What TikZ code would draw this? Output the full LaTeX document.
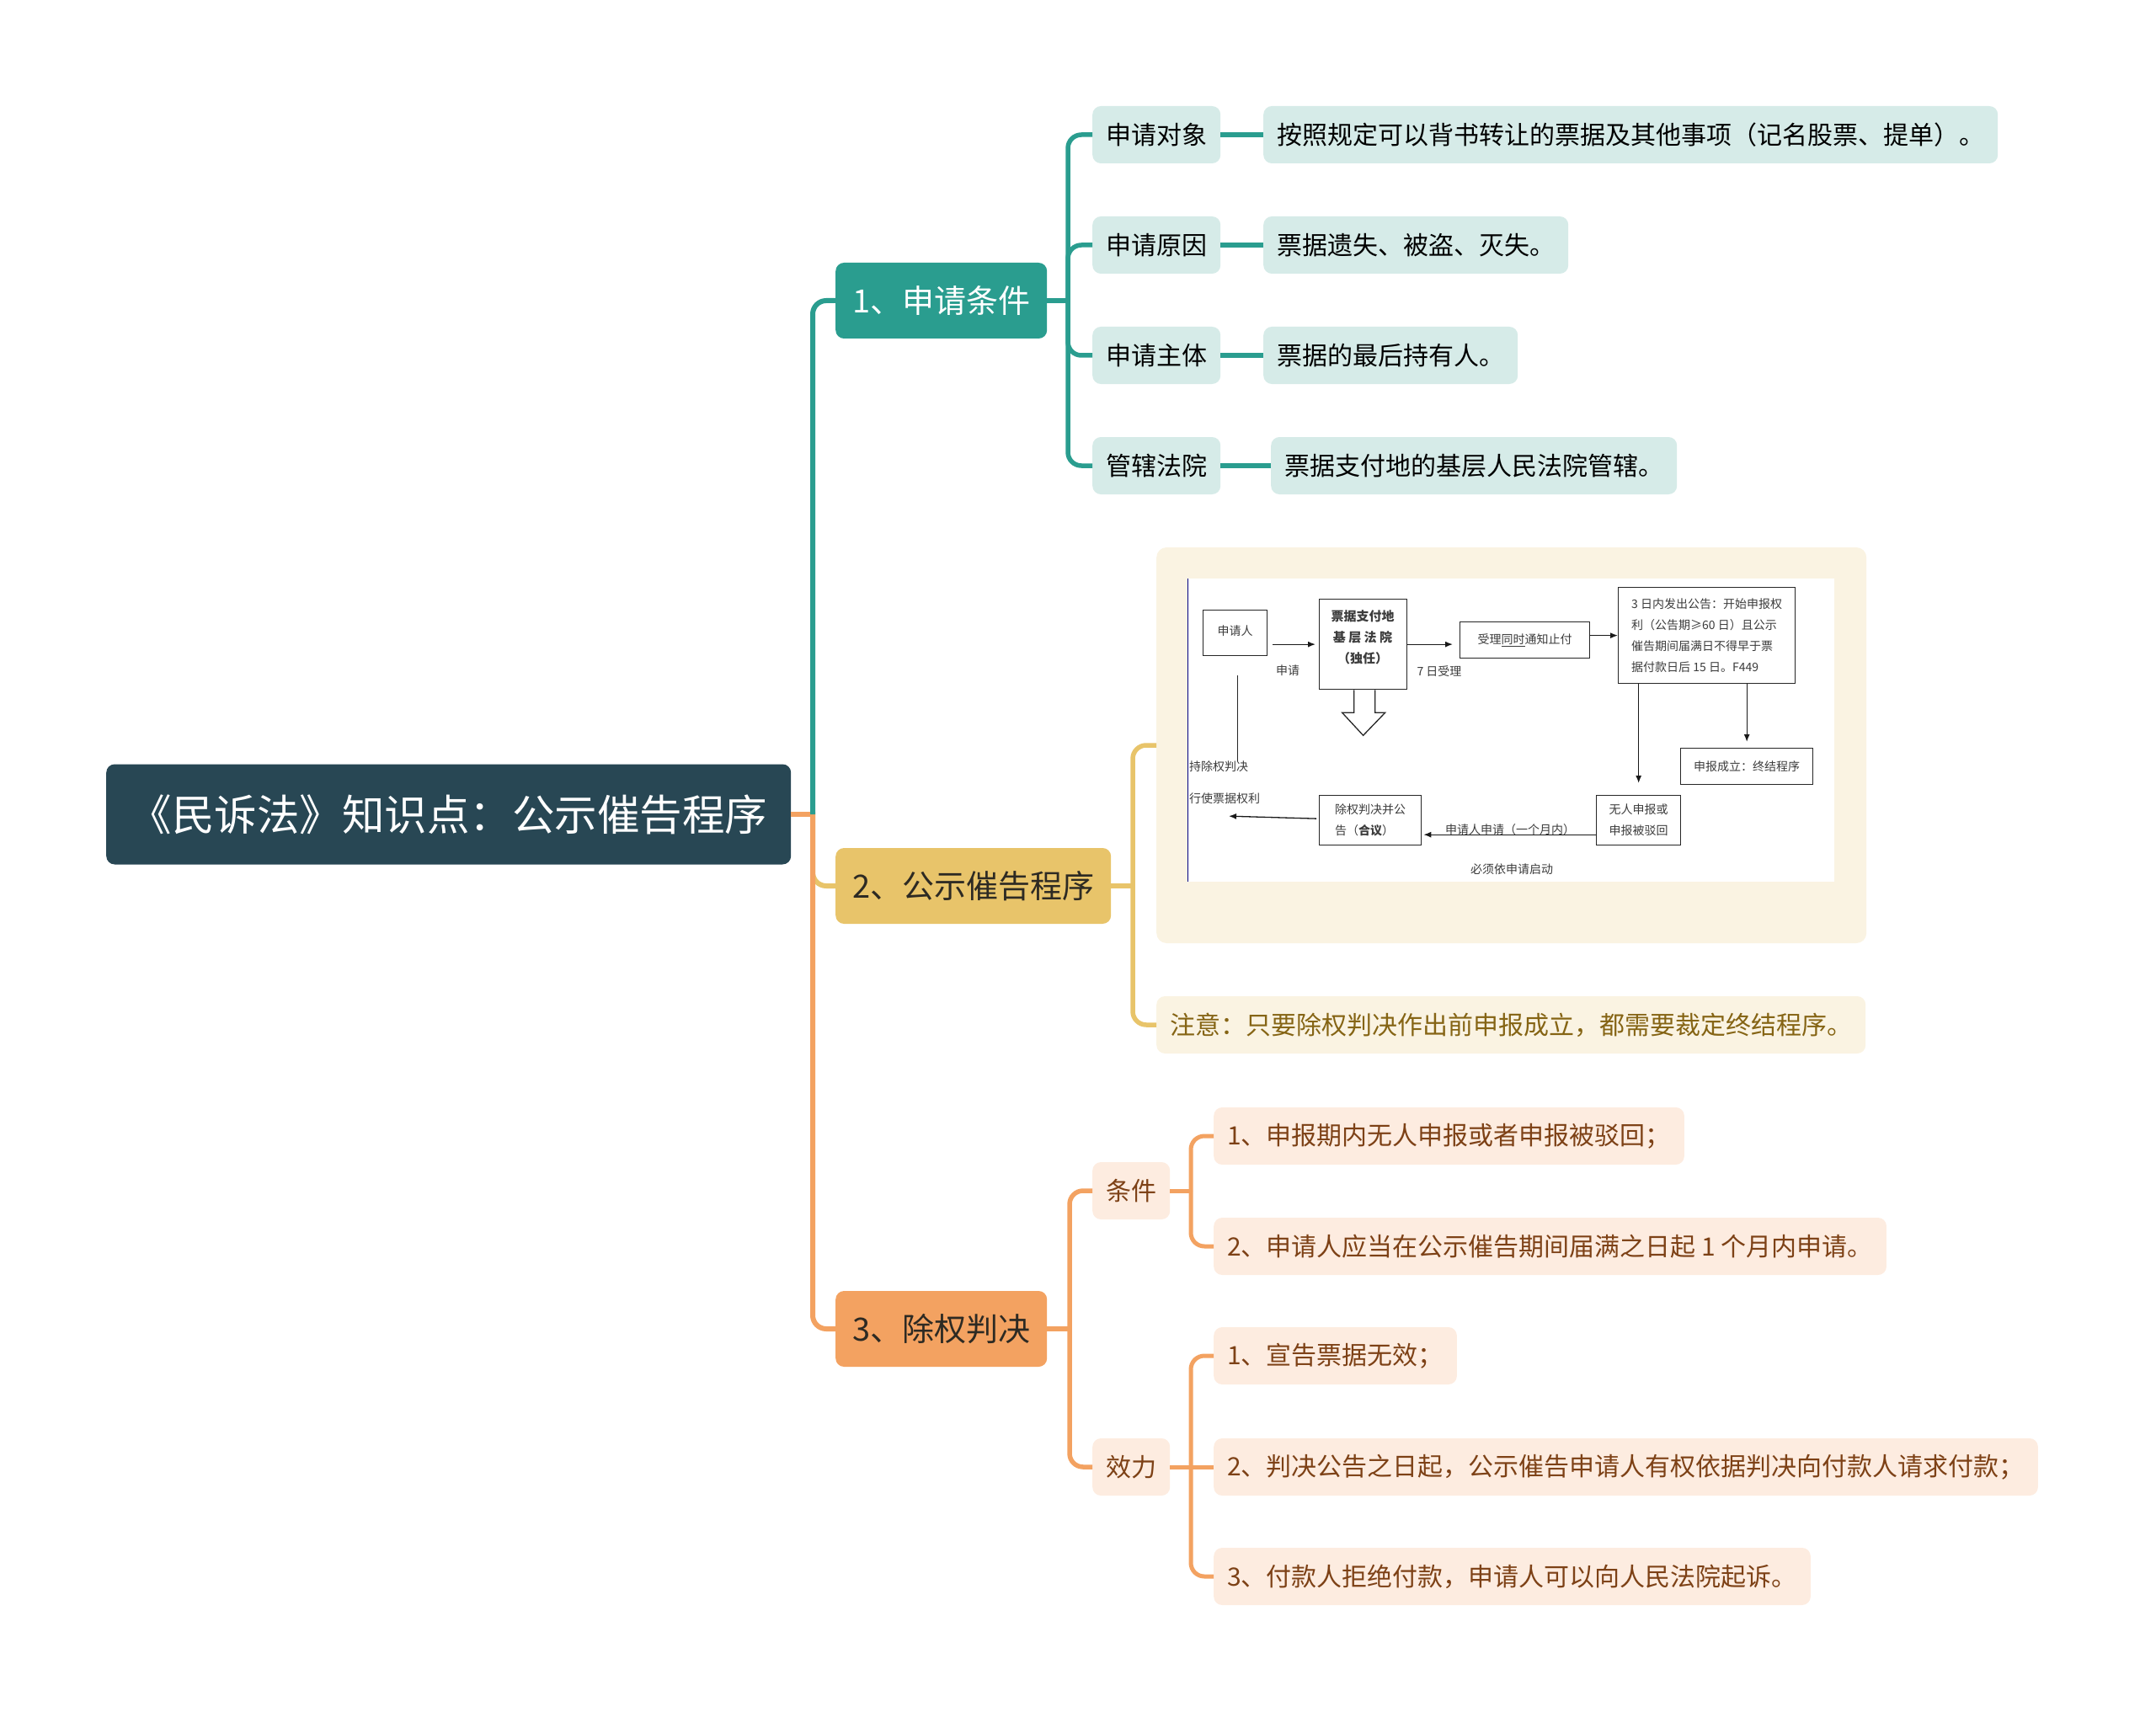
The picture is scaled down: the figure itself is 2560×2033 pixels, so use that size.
\documentclass[tikz,border=0pt]{standalone}
\usepackage{fontspec}
\setmainfont{Noto Sans CJK SC}
\usetikzlibrary{calc, arrows.meta}
\definecolor{rootC}{RGB}{40,71,84}
\definecolor{tealC}{RGB}{42,157,143}
\definecolor{goldC}{RGB}{232,196,106}
\definecolor{orangeC}{RGB}{243,162,97}
\definecolor{tealL}{RGB}{214,235,232}
\definecolor{goldL}{RGB}{250,243,226}
\definecolor{orangeL}{RGB}{253,236,224}
\definecolor{goldT}{RGB}{133,100,20}
\definecolor{orangeT}{RGB}{125,65,22}
\definecolor{darkT}{RGB}{45,42,35}
\definecolor{flowT}{RGB}{60,60,60}

\begin{document}
\begin{tikzpicture}[x=1pt, y=-1pt,
  rootnode/.style={fill=rootC, text=white, rounded corners=10pt, anchor=west, minimum width=813pt, minimum height=119pt, font=\fontsize{50.5}{58}\selectfont},
  topic/.style={rounded corners=10pt, anchor=west, minimum height=90pt, font=\fontsize{38}{44}\selectfont},
  leaf/.style={rounded corners=10pt, anchor=west, inner xsep=16pt, inner ysep=0pt, minimum height=68pt, font=\fontsize{30}{35}\selectfont},
  tline/.style={tealC, line width=6pt},
  gline/.style={goldC, line width=6pt},
  oline/.style={orangeC, line width=6pt},
  elbow/.style={rounded corners=16pt},
  fbox/.style={draw=black!85, line width=1.3pt, anchor=north west, inner sep=0pt, text=flowT, font=\fontsize{14}{25}\selectfont},
  ftext/.style={text=flowT, font=\fontsize{14}{25}\selectfont, inner sep=0pt},
  farrow/.style={black!90, line width=1.3pt, -{Latex[length=9pt, width=7pt]}}
]
\useasboundingbox (0,0) rectangle (2560,2033);

% root and first level
\node[rootnode] (root) at (126,967) {《民诉法》知识点：公示催告程序};
\node[topic, fill=tealC, text=white, minimum width=251pt] (b1) at (992,357) {1、申请条件};
\node[topic, fill=goldC, text=darkT, minimum width=327pt] (b2) at (992,1052) {2、公示催告程序};
\node[topic, fill=orangeC, text=darkT, minimum width=251pt] (b3) at (992,1578) {3、除权判决};

\coordinate (j0) at (965,967);
\coordinate (j1) at (1268,357);
\coordinate (j2) at (1345,1052);
\coordinate (j3) at (1270,1578);
\coordinate (j3a) at (1414,1414);
\coordinate (j3b) at (1414,1742);

\draw[gline, elbow] (j0) |- (b2.west);
\draw[oline] (root.east) -- ($(j0)+(3,0)$);
\draw[oline, elbow] ($(j0)+(0,-3)$) |- (b3.west);
\draw[tline, elbow] (j0) |- (b1.west);

% 1 申请条件
\node[leaf, fill=tealL] (s1) at (1297,160) {申请对象};
\node[leaf, fill=tealL] (d1) at (1500,160) {按照规定可以背书转让的票据及其他事项（记名股票、提单）。};
\node[leaf, fill=tealL] (s2) at (1297,291) {申请原因};
\node[leaf, fill=tealL] (d2) at (1500,291) {票据遗失、被盗、灭失。};
\node[leaf, fill=tealL] (s3) at (1297,422) {申请主体};
\node[leaf, fill=tealL] (d3) at (1500,422) {票据的最后持有人。};
\node[leaf, fill=tealL] (s4) at (1297,553) {管辖法院};
\node[leaf, fill=tealL] (d4) at (1509,553) {票据支付地的基层人民法院管辖。};

\draw[tline] (b1.east) -- (j1);
\foreach \s in {s1,s2,s3,s4}
  \draw[tline, line width=5.5pt, elbow] (j1) |- (\s.west);
\foreach \s/\d in {s1/d1, s2/d2, s3/d3, s4/d4}
  \draw[tline, line width=5.5pt] (\s.east) -- (\d.west);

% 2 公示催告程序
\node[leaf, fill=goldL, rounded corners=12pt, minimum width=843pt, minimum height=470pt] (pic) at (1373,885) {};
\node[leaf, fill=goldL, text=goldT] (note) at (1373,1217) {注意：只要除权判决作出前申报成立，都需要裁定终结程序。};

\draw[gline] (b2.east) -- (j2);
\draw[gline, line width=5.5pt, elbow] (j2) |- (pic.west);
\draw[gline, line width=5.5pt, elbow] (j2) |- (note.west);

% flow chart inside the picture box
\fill[white] (1410,687) rectangle (2178,1047);
\draw[blue!50!black, line width=1pt] (1410,687) -- (1410,1047);

\node[fbox, minimum width=76pt, minimum height=54pt] (fa) at (1428,724) {\raisebox{7pt}{申请人}};
\node[fbox, minimum width=104pt, minimum height=107pt] (fb) at (1566,711) {};
\node[ftext, align=center, font=\fontsize{15}{25}\selectfont\bfseries] (fbt) at (1618,757) {票据支付地\\基 层 法 院\\（独任）};
\node[fbox, minimum width=154pt, minimum height=43pt] (fc) at (1733,738) {受理\underline{同时}通知止付};
\node[fbox, minimum width=210pt, minimum height=114pt, align=left] (fd) at (1921,697) {3 日内发出公告：开始申报权\\利（公告期≥60 日）且公示\\催告期间届满日不得早于票\\据付款日后 15 日。F449};
\node[fbox, minimum width=157pt, minimum height=43pt] (fe) at (1995,888) {申报成立：终结程序};
\node[fbox, minimum width=100pt, minimum height=59pt, align=center] (ff) at (1895,944) {无人申报或\\申报被驳回};
\node[fbox, minimum width=121pt, minimum height=59pt, align=left] (fg) at (1566,944) {除权判决并公\\告（\textbf{合议}）};

\draw[black!85, line width=1.3pt] ($(fb.south)+(-11,0)$) -- ++(0,27) -- ++(-14,0) -- ++(25,27) -- ++(26,-27) -- ++(-12,0) -- ++(0,-27);

\draw[farrow] ($(fa.east |- fb.west)+(6,0)$) -- ($(fb.west)+(-4,0)$);
\draw[farrow] (fb.east) -- ($(fb.east -| fc.west)+(-8,0)$);
\draw[farrow] (fc.east |- fd.west) -- (fd.west);
\draw[farrow] (fd.south -| ff.north) -- ($(ff.north)+(0,-14)$);
\draw[farrow] (fd.south -| fe.north) -- ($(fe.north)+(0,-7)$);
\draw[farrow] ($(ff.west)+(0,17)$) -- ($(ff.west -| fg.east)+(2,17)$);
\draw[farrow] ($(fg.west)+(-3,-2)$) -- ++(-104,-3);
\draw[black!85, line width=1.3pt] ($(fa.south)+(3,23)$) -- ++(0,102);

\node[ftext] (fl1) at (1529,796) {申请};
\node[ftext] (fl2) at (1709,797) {7 日受理};
\node[ftext] (fl3) at (1793,985) {申请人申请（一个月内）};
\node[ftext] (fl4) at (1795,1032) {必须依申请启动};
\node[ftext, anchor=west] (fl5) at (1412,910) {持除权判决};
\node[ftext, anchor=west] (fl6) at (1412,948) {行使票据权利};

% 3 除权判决
\node[leaf, fill=orangeL, text=orangeT] (c1) at (1297,1414) {条件};
\node[leaf, fill=orangeL, text=orangeT] (c2) at (1297,1742) {效力};
\node[leaf, fill=orangeL, text=orangeT] (c1a) at (1441,1349) {1、申报期内无人申报或者申报被驳回；};
\node[leaf, fill=orangeL, text=orangeT] (c1b) at (1441,1480) {2、申请人应当在公示催告期间届满之日起 1 个月内申请。};
\node[leaf, fill=orangeL, text=orangeT] (c2a) at (1441,1610) {1、宣告票据无效；};
\node[leaf, fill=orangeL, text=orangeT] (c2b) at (1441,1742) {2、判决公告之日起，公示催告申请人有权依据判决向付款人请求付款；};
\node[leaf, fill=orangeL, text=orangeT] (c2c) at (1441,1872) {3、付款人拒绝付款，申请人可以向人民法院起诉。};

\draw[oline] (b3.east) -- (j3);
\draw[oline, line width=5.5pt, elbow] (j3) |- (c1.west);
\draw[oline, line width=5.5pt, elbow] (j3) |- (c2.west);
\draw[oline, line width=5pt] (c1.east) -- (j3a);
\draw[oline, line width=5pt, elbow] (j3a) |- (c1a.west);
\draw[oline, line width=5pt, elbow] (j3a) |- (c1b.west);
\draw[oline, line width=5pt] (c2.east) -- (c2b.west);
\draw[oline, line width=5pt, elbow] (j3b) |- (c2a.west);
\draw[oline, line width=5pt, elbow] (j3b) |- (c2c.west);
\end{tikzpicture}
\end{document}
